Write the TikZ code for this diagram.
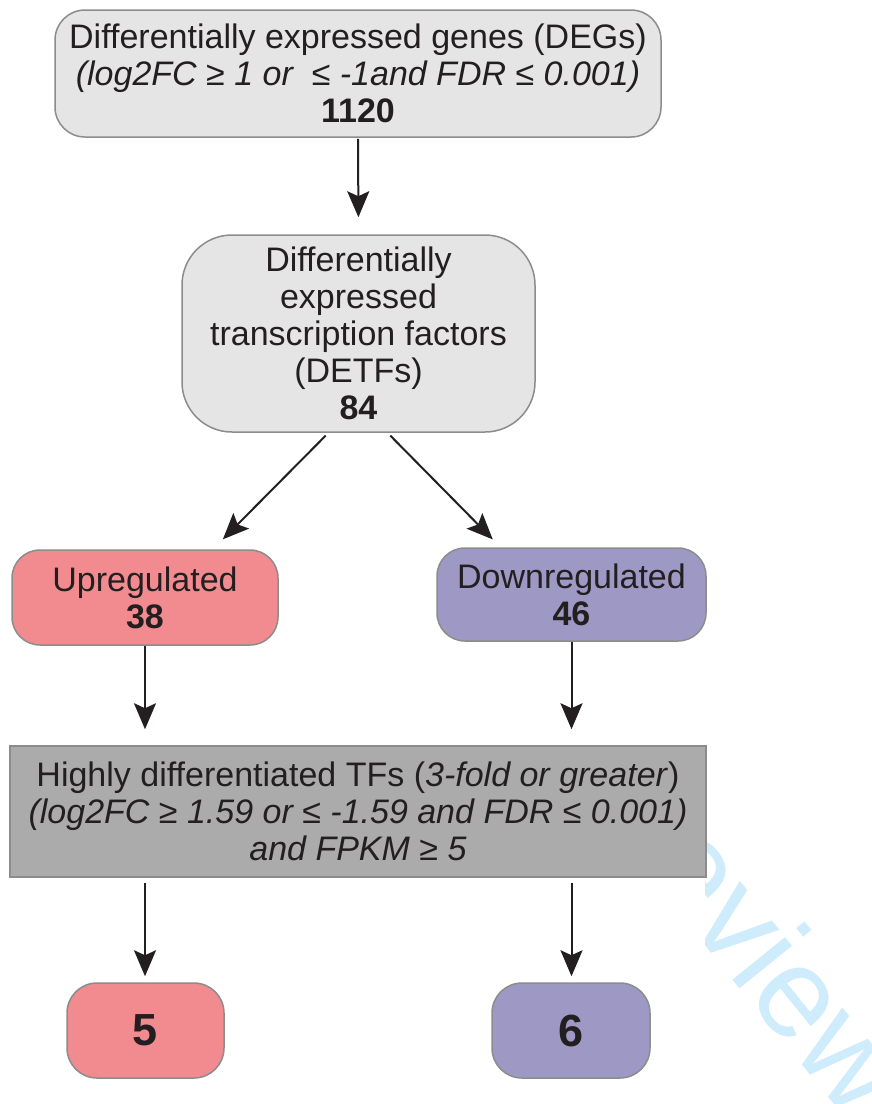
\documentclass[tikz,border=0pt]{standalone}
\usepackage{fontspec}
\setmainfont{Liberation Sans}
\usetikzlibrary{arrows.meta}
\definecolor{txtc}{RGB}{35,31,32}
\definecolor{bordc}{RGB}{140,140,140}
\definecolor{lgray}{RGB}{229,229,229}
\definecolor{pinkc}{RGB}{241,139,143}
\definecolor{purpc}{RGB}{158,152,196}
\definecolor{dgray}{RGB}{171,171,171}
\definecolor{wmc}{RGB}{206,236,252}
\tikzset{
  txt/.style={text=txtc, font=\fontsize{34}{37}\selectfont, align=center, inner sep=0pt},
  boxbase/.style={txt, draw=bordc, line width=1.5pt},
  greybox/.style={boxbase, fill=lgray},
  upbox/.style={boxbase, fill=pinkc, rounded corners=28pt},
  downbox/.style={boxbase, fill=purpc, rounded corners=28pt},
  filterbox/.style={boxbase, fill=dgray},
  bignum/.style={font=\fontsize{45}{45}\selectfont\bfseries},
  arr/.style={-{Stealth[length=26pt,width=22pt,inset=5pt]}, line width=2pt, draw=txtc},
  wm/.style={text=wmc, font=\fontsize{128}{128}\selectfont, inner sep=0pt}
}
\begin{document}
\begin{tikzpicture}[x=1pt,y=-1pt]
\useasboundingbox (0,0) rectangle (872,1104);
% watermark, partly hidden by the white panel of the diagram
\begin{scope}
  \clip (0,0) rectangle (872,1104);
  \node[wm, rotate=-51, anchor=base west] (wmark) at (584,796) {Review};
\end{scope}
\fill[white] (0,0) rectangle (705,1078);

% nodes
\node[greybox, rounded corners=30pt, minimum width=606pt, minimum height=127pt] (deg) at (358,73.5)
  {Differentially expressed genes (DEGs)\\
   \textit{(log2FC ≥ 1 or\ \ ≤ -1and FDR ≤ 0.001)}\\
   \textbf{1120}};
\node[greybox, rounded corners=50pt, minimum width=353pt, minimum height=197pt] (detf) at (358.5,333.5)
  {Differentially\\ expressed\\ transcription factors\\ (DETFs)\\ \textbf{84}};
\node[upbox, minimum width=266pt, minimum height=95pt] (up) at (145,597.5)
  {Upregulated\\ \textbf{38}};
\node[downbox, minimum width=269pt, minimum height=93pt] (down) at (571.5,594.5)
  {Downregulated\\ \textbf{46}};
\node[filterbox, minimum width=696pt, minimum height=131pt] (hf) at (358,811.5)
  {Highly differentiated TFs (\textit{3-fold or greater})\\
   \textit{(log2FC ≥ 1.59 or ≤ -1.59 and FDR ≤ 0.001)}\\
   \textit{and FPKM ≥ 5}};
\node[upbox, rounded corners=30pt, minimum width=157pt, minimum height=95pt, bignum] (five) at (145.5,1030.5) {5};
\node[downbox, rounded corners=30pt, minimum width=158pt, minimum height=95pt, bignum] (six) at (571,1030.5) {6};

% connectors
\draw[arr, shorten <=1pt, shorten >=17pt] (deg.south) -- (detf.north);
\draw[arr, shorten <=4pt, shorten >=14pt] ([xshift=-30pt]detf.south) -- ([xshift=68pt]up.north);
\draw[arr, shorten <=4pt, shorten >=11pt] ([xshift=29pt]detf.south) -- ([xshift=-71pt]down.north);
\draw[arr, shorten >=16pt] (up.south) -- (up.south |- hf.north);
\draw[arr, shorten >=16pt] (down.south) -- (down.south |- hf.north);
\draw[arr, shorten <=5pt, shorten >=6pt] (up.south |- hf.south) -- (up.south |- five.north);
\draw[arr, shorten <=5pt, shorten >=6pt] (down.south |- hf.south) -- (down.south |- six.north);
\end{tikzpicture}
\end{document}
